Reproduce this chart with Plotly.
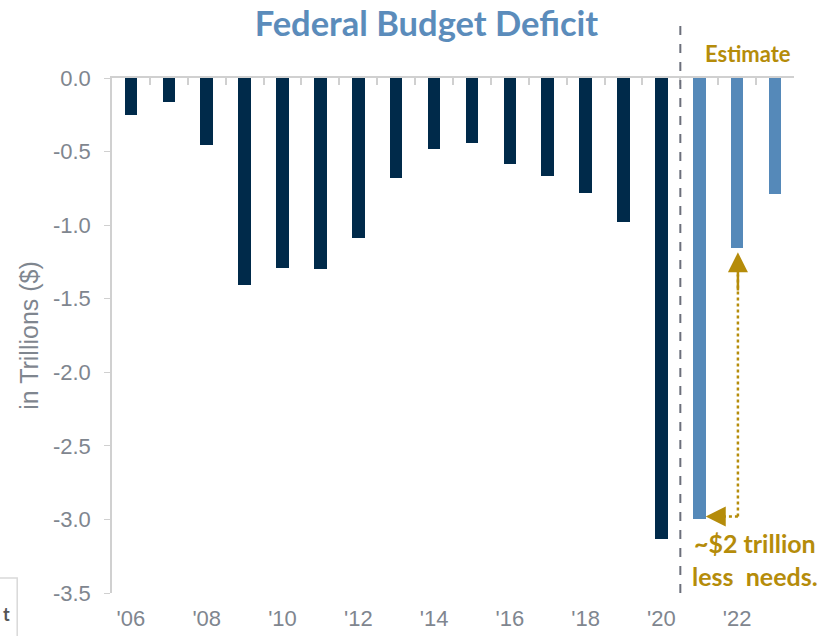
import plotly.graph_objects as go

years = list(range(2006, 2024))
deficits = [-0.25, -0.16, -0.455, -1.41, -1.29, -1.30, -1.09, -0.68, -0.485,
            -0.44, -0.585, -0.665, -0.78, -0.98, -3.13, -3.00, -1.155, -0.79]
estimate_from = 2021
tick_years = list(range(2006, 2023, 2))
tick_labels = ["'06", "'08", "'10", "'12", "'14", "'16", "'18", "'20", "'22"]
y_ticks = [0.0, -0.5, -1.0, -1.5, -2.0, -2.5, -3.0, -3.5]

NAVY = "#002a4a"
LIGHT = "#5589b9"
GOLD = "#b58c0a"
GRAY = "#7f868f"

colors = [LIGHT if y >= estimate_from else NAVY for y in years]

fig = go.Figure()
fig.add_trace(go.Bar(x=years, y=deficits, marker=dict(color=colors, line=dict(width=0)),
                     width=0.33, showlegend=False, hoverinfo="x+y"))
# top axis ticks on zero line (category boundaries)
fig.add_trace(go.Scatter(x=[years[0] - 0.5, years[-1] + 0.5], y=[0, 0], xaxis="x2",
                         mode="lines", line=dict(color="rgba(0,0,0,0)"), showlegend=False,
                         hoverinfo="skip"))

fig.update_layout(
    width=828, height=636,
    margin=dict(l=112, r=34, t=78, b=43),
    plot_bgcolor="white", paper_bgcolor="white",
    bargap=0,
    title=dict(text="<b>Federal Budget Deficit</b>", x=0.515, xanchor="center",
               y=0.962, yanchor="middle",
               font=dict(family="Lato", size=34.5, color="#5b8cbb")),
    xaxis=dict(range=[years[0] - 0.5, years[-1] + 0.5], tickvals=tick_years,
               ticktext=tick_labels, showline=False, showgrid=False, zeroline=False,
               ticks="", tickfont=dict(family="Liberation Sans", size=22, color=GRAY),
               ticklabelstandoff=10, automargin=False),
    xaxis2=dict(range=[years[0] - 0.5, years[-1] + 0.5], overlaying="x", side="top",
                anchor="y", showline=True, linecolor="#d0d0d0", linewidth=2,
                tickvals=[y - 0.5 for y in years] + [years[-1] + 0.5], ticks="inside",
                ticklen=7, tickcolor="#d0d0d0", tickwidth=1.5, showticklabels=False,
                showgrid=False, zeroline=False, automargin=False),
    yaxis=dict(range=[-3.5, 0], tickvals=y_ticks, ticktext=[f"{v:.1f}" for v in y_ticks],
               showline=True, linecolor="#d0d0d0", linewidth=1.5, ticks="outside",
               ticklen=6, tickcolor="#d0d0d0", showgrid=False, zeroline=False,
               tickfont=dict(family="Liberation Sans", size=22, color=GRAY),
               ticklabelstandoff=9, automargin=False,
               title=dict(text="in Trillions ($)", standoff=7,
                          font=dict(family="Liberation Sans", size=25, color=GRAY))),
)

# dashed divider between actual and estimate
fig.add_shape(type="line", xref="x", yref="paper", x0=estimate_from - 0.5, x1=estimate_from - 0.5,
              y0=0, y1=1.113, line=dict(color="#6c6f7b", width=2, dash="dash"))

fig.add_annotation(text="<b>Estimate</b>", xref="x", yref="paper", x=2022.28, y=1.048,
                   yanchor="middle", showarrow=False,
                   font=dict(family="Lato", size=22, color=GOLD))

# bracket annotation between 2021 and 2022 estimates
v21 = deficits[years.index(2021)]
v22 = deficits[years.index(2022)]
fig.add_shape(type="line", xref="x", yref="y", x0=2022.02, x1=2021.5, y0=v21 + 0.02, y1=v21 + 0.02,
              line=dict(color=GOLD, width=2.5, dash="dot"))
fig.add_shape(type="line", xref="x", yref="y", x0=2022.02, x1=2022.02, y0=v21 + 0.02, y1=v22 - 0.18,
              line=dict(color=GOLD, width=2.5, dash="dot"))
fig.add_annotation(x=2021.17, y=v21 + 0.02, ax=2021.6, ay=v21 + 0.02, xref="x", yref="y",
                   axref="x", ayref="y", showarrow=True, arrowhead=2, arrowsize=1.6,
                   arrowwidth=2.5, arrowcolor=GOLD, text="")
fig.add_annotation(x=2022.02, y=v22 - 0.03, ax=2022.02, ay=v22 - 0.3, xref="x", yref="y",
                   axref="x", ayref="y", showarrow=True, arrowhead=2, arrowsize=1.6,
                   arrowwidth=2.5, arrowcolor=GOLD, text="")
fig.add_annotation(text="<b>~$2 trillion</b><br><b>less  needs.</b>", xref="x", yref="y",
                   x=2022.48, y=-3.27, showarrow=False, align="center",
                   font=dict(family="Lato", size=25, color=GOLD))

# partial box at bottom-left edge
fig.add_shape(type="rect", xref="paper", yref="paper", x0=-0.17, x1=-0.139, y0=-0.12, y1=0.029,
              line=dict(color="#d9d9d9", width=1.5), fillcolor="white")
fig.add_annotation(text="<b>t</b>", xref="paper", yref="paper", x=-0.155, y=-0.041,
                   xanchor="center", yanchor="middle", showarrow=False,
                   font=dict(family="Lato", size=18, color="#555555"))

fig.write_html("out.html", config={"displayModeBar": False},
               post_script="document.body.style.margin='0';")
